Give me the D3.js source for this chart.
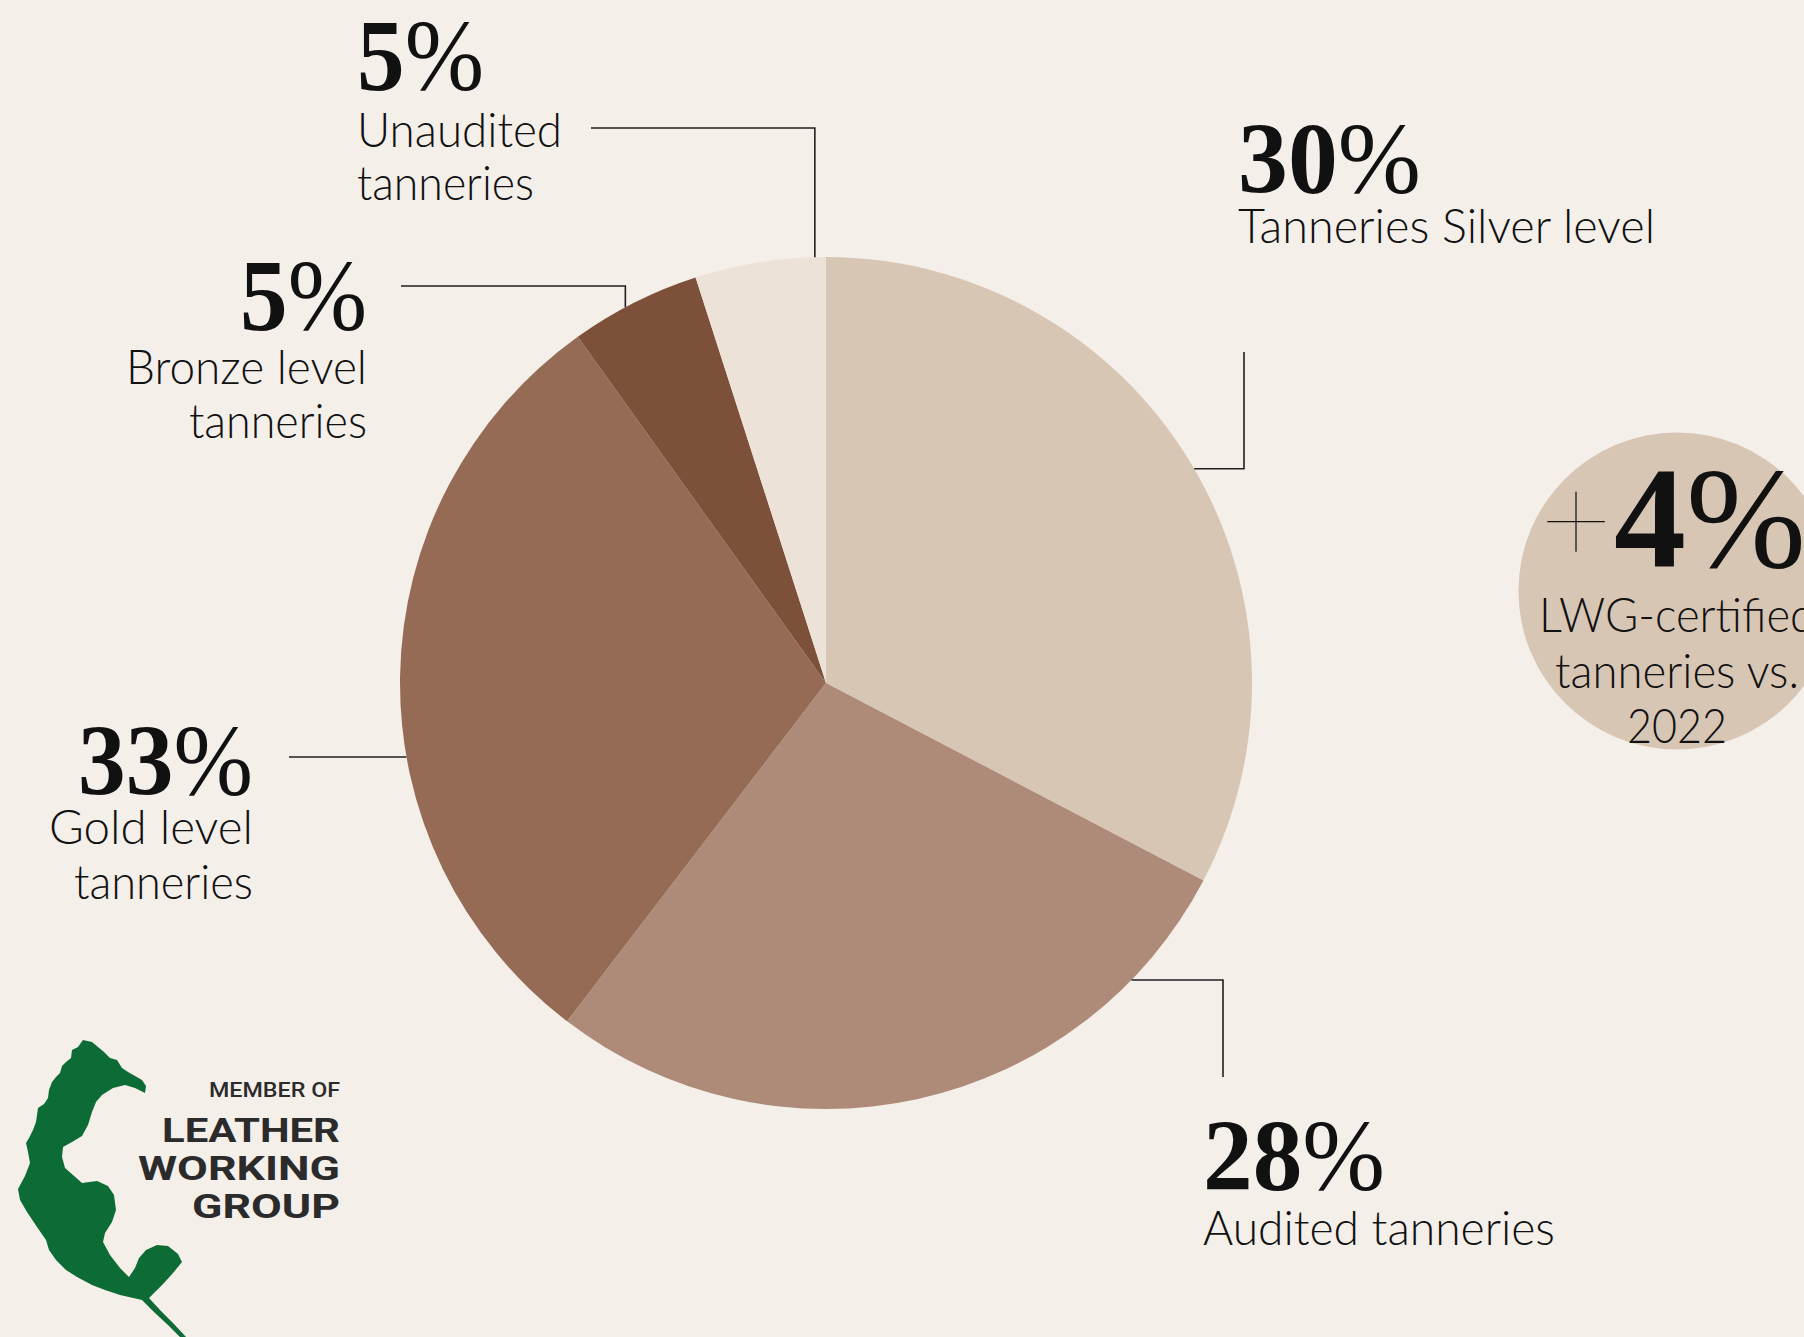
<!DOCTYPE html>
<html>
<head>
<meta charset="utf-8">
<script src="https://cdn.jsdelivr.net/npm/d3@7"></script>
<style>
  html, body { margin: 0; padding: 0; background: #f4efe9; }
  svg { display: block; }
</style>
</head>
<body>
<div id="chart"></div>
<script>
// ---------------- DATA ----------------
const categories = ["Tanneries Silver level", "Audited tanneries", "Gold level tanneries", "Bronze level tanneries", "Unaudited tanneries"];
// angular share of each slice as drawn in the reference (clockwise from 12 o'clock)
const sliceValues = [33, 28, 30, 5, 5];
// percentage labels as printed
const pctLabels = ["30%", "28%", "33%", "5%", "5%"];
const labelLines = [["Tanneries Silver level"], ["Audited tanneries"], ["Gold level", "tanneries"], ["Bronze level", "tanneries"], ["Unaudited", "tanneries"]];
const sliceColors = ["#d8c6b5", "#ae8b78", "#966b55", "#7d5039", "#ede2d8"];

const highlightValue = "+4%";
const highlightLines = ["LWG-certified", "tanneries vs.", "2022"];

const logoLines = ["MEMBER OF", "LEATHER", "WORKING", "GROUP"];

// ---------------- LAYOUT ----------------
const W = 1804, H = 1337;
const cx = 826, cy = 683, R = 426;

const svg = d3.select("#chart").append("svg").attr("width", W).attr("height", H);
svg.append("rect").attr("width", W).attr("height", H).attr("fill", "#f4efe9");

const pie = d3.pie().sort(null).value(d => d);
const arc = d3.arc().innerRadius(0).outerRadius(R);
const arcs = pie(sliceValues);

const gPie = svg.append("g").attr("transform", `translate(${cx},${cy})`);
gPie.selectAll("path").data(arcs).join("path")
  .attr("d", arc)
  .attr("fill", (d, i) => sliceColors[i]);

// leader lines: attach angle on the rim (degrees clockwise from top) + route
const leaders = [
  { angle: 59.8, route: [["h", 1244], ["v", 352]] },
  { angle: 134.2, route: [["h", 1223], ["v", 1077]] },
  { angle: 260.0, route: [["h", 289]] },
  { angle: 331.9, route: [["v", 286], ["h", 401]] },
  { angle: 358.5, route: [["v", 128], ["h", 591]] }
];
const lineGen = d3.line();
leaders.forEach(l => {
  const a = l.angle * Math.PI / 180;
  let p = [cx + R * Math.sin(a), cy - R * Math.cos(a)];
  const pts = [p];
  l.route.forEach(([dir, v]) => {
    p = dir === "h" ? [v, p[1]] : [p[0], v];
    pts.push(p);
  });
  svg.append("path").attr("d", lineGen(pts))
    .attr("fill", "none").attr("stroke", "#231f20").attr("stroke-width", 1.6);
});

// label placement
const labelPos = [
  { x: 1238, anchor: "start", pctBase: 193, pctW: 183, lineBase: [243], lineW: [417] },
  { x: 1203, anchor: "start", pctBase: 1190, pctW: 182, lineBase: [1245], lineW: [352] },
  { x: 253, anchor: "end", pctBase: 795, pctW: 175, lineBase: [844, 899], lineW: [204, 179] },
  { x: 367, anchor: "end", pctBase: 330, pctW: 127, lineBase: [384, 438], lineW: [241, 178] },
  { x: 357, anchor: "start", pctBase: 90, pctW: 127, lineBase: [147, 200], lineW: [205, 177] }
];

const serif = "'Liberation Serif', 'DejaVu Serif', serif";
const sans = "Lato, 'Open Sans', sans-serif";

labelPos.forEach((p, i) => {
  const t = svg.append("text")
    .attr("x", p.x).attr("y", p.pctBase)
    .attr("text-anchor", p.anchor)
    .attr("font-family", serif).attr("font-size", 102)
    .attr("fill", "#111")
    .attr("textLength", p.pctW).attr("lengthAdjust", "spacingAndGlyphs");
  const num = pctLabels[i].replace("%", "");
  t.append("tspan").attr("font-weight", 700).text(num);
  t.append("tspan").attr("font-weight", 400).text("%");

  labelLines[i].forEach((line, j) => {
    svg.append("text")
      .attr("x", p.x).attr("y", p.lineBase[j])
      .attr("text-anchor", p.anchor)
      .attr("font-family", sans).attr("font-weight", 300).attr("font-size", 48)
      .attr("fill", "#111")
      .attr("textLength", p.lineW[j]).attr("lengthAdjust", "spacingAndGlyphs")
      .text(line);
  });
});

// highlight circle on the right
const hx = 1677, hy = 591, hr = 158.5;
svg.append("circle").attr("cx", hx).attr("cy", hy).attr("r", hr).attr("fill", sliceColors[0]);
// "+" sign (thin) and "4%" bold
svg.append("text").attr("x", 1576).attr("y", 563)
  .attr("text-anchor", "middle")
  .attr("font-family", sans).attr("font-weight", 100).attr("font-size", 125)
  .attr("fill", "#111").text(highlightValue.charAt(0));
const t4 = svg.append("text").attr("x", 1614).attr("y", 567)
  .attr("font-family", serif).attr("font-size", 143).attr("fill", "#111")
  .attr("textLength", 192).attr("lengthAdjust", "spacingAndGlyphs");
t4.append("tspan").attr("font-weight", 700).text(highlightValue.slice(1).replace("%", ""));
t4.append("tspan").attr("font-weight", 400).text("%");

const hlBase = [632, 688, 743];
const hlW = [276, 244, 100];
highlightLines.forEach((line, j) => {
  svg.append("text").attr("x", hx).attr("y", hlBase[j])
    .attr("text-anchor", "middle")
    .attr("font-family", sans).attr("font-weight", 300).attr("font-size", 48)
    .attr("fill", "#111")
    .attr("textLength", hlW[j]).attr("lengthAdjust", "spacingAndGlyphs")
    .text(line);
});

// ---------------- LOGO ----------------
const leafPts = [
  [83,1040],[78,1047],[72,1050],[71,1058],[66,1062],[62,1066],[60,1073],[56,1077],[52,1082],[49,1090],
  [48,1098],[44,1104],[38,1108],[37,1115],[36,1122],[33,1130],[29,1138],[26,1143],[28,1152],[30,1163],
  [25,1176],[18,1189],[20,1200],[27,1212],[37,1227],[46,1240],[49,1250],[56,1260],[66,1270],[77,1277],
  [92,1285],[105,1290],[120,1295],[142,1300],
  [155,1313],[168,1325],[180,1337],[186,1337],[173,1323],[160,1310],[149,1298],
  [155,1292],[164,1283],[173,1273],[182,1262],[178,1254],[168,1246],[157,1245],[146,1250],[139,1258],
  [135,1268],[129,1277],[120,1268],[110,1255],[103,1242],[105,1233],[112,1222],[116,1210],[114,1195],
  [108,1186],[97,1181],[82,1183],[73,1175],[65,1168],[62,1157],[63,1147],[72,1142],[82,1136],[88,1125],
  [92,1112],[96,1102],[102,1095],[113,1088],[125,1085],[135,1088],[145,1093],[146,1086],[142,1080],
  [135,1076],[128,1072],[122,1068],[117,1060],[110,1058],[104,1052],[98,1047],[92,1042]
];
svg.append("path")
  .attr("d", d3.line().curve(d3.curveLinearClosed)(leafPts))
  .attr("fill", "#0d6b36");

const logoSpec = [
  { base: 1097, size: 20, w: 131, weight: 500 },
  { base: 1142, size: 34, w: 178, weight: 700 },
  { base: 1180, size: 34, w: 202, weight: 700 },
  { base: 1218, size: 34, w: 148, weight: 700 }
];
logoLines.forEach((line, j) => {
  const s = logoSpec[j];
  svg.append("text").attr("x", 340).attr("y", s.base)
    .attr("text-anchor", "end")
    .attr("font-family", "Roboto, 'DejaVu Sans', sans-serif").attr("font-weight", s.weight)
    .attr("font-size", s.size).attr("fill", "#2b2b2b")
    .attr("textLength", s.w).attr("lengthAdjust", "spacingAndGlyphs")
    .text(line);
});
</script>
</body>
</html>
